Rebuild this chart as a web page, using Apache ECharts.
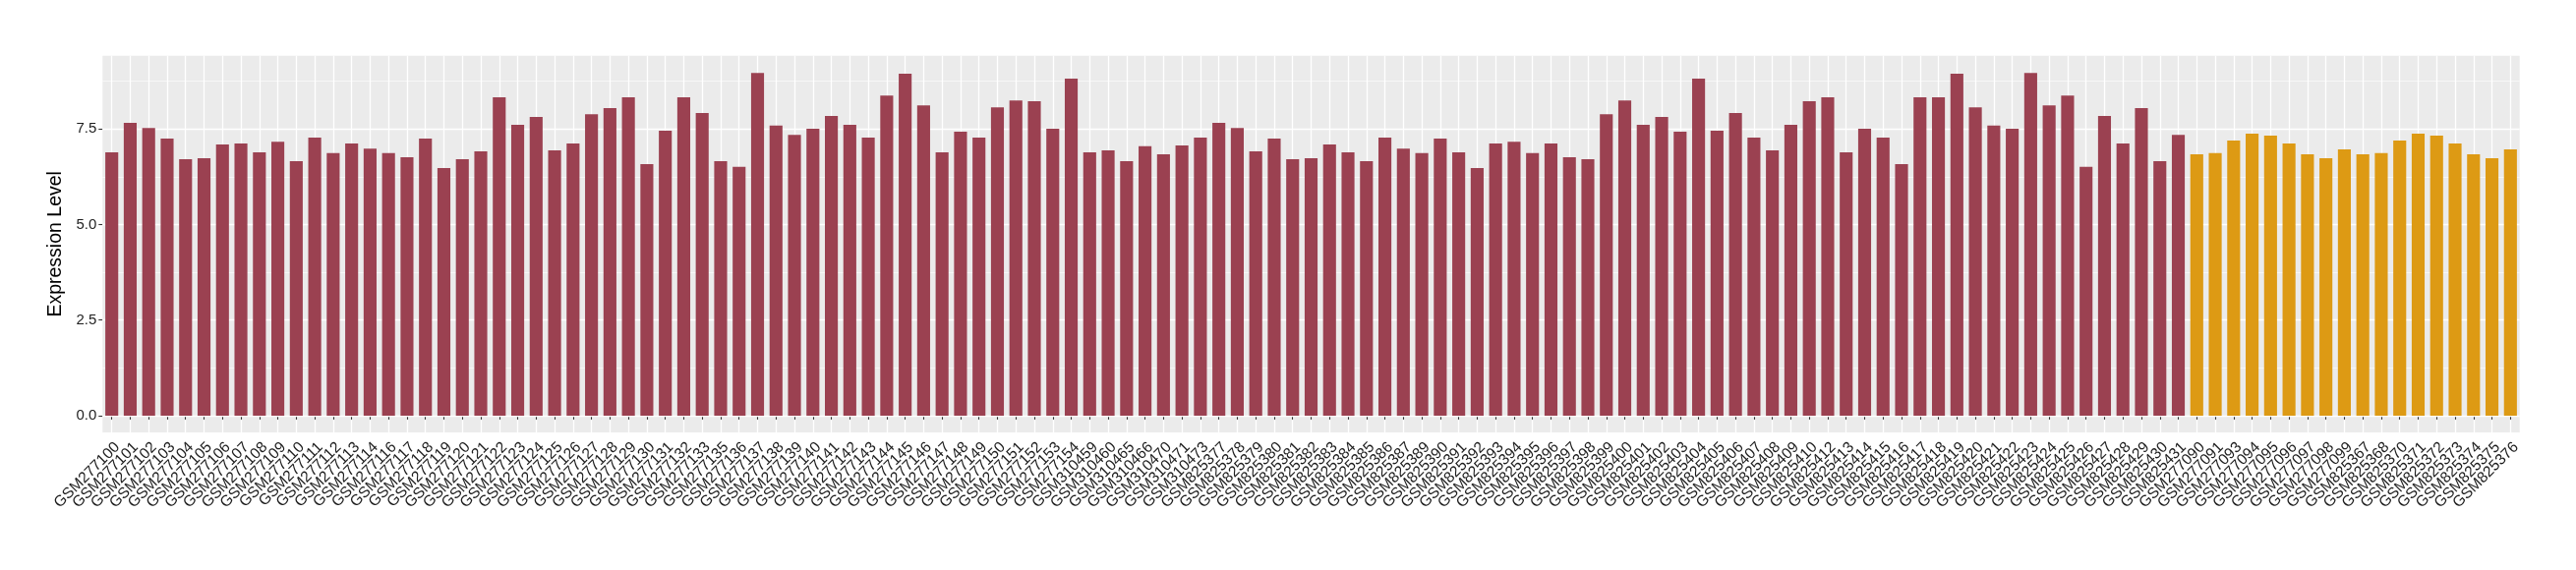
<!DOCTYPE html>
<html>
<head>
<meta charset="utf-8">
<script src="https://cdn.jsdelivr.net/npm/echarts@6/dist/echarts.min.js"></script>
<style>
html,body{margin:0;padding:0;background:#fff;}
#chart{width:2620px;height:580px;}
</style>
</head>
<body>
<div id="chart"></div>
<script>
// ---- data ----
const namesA = [
  'GSM277100','GSM277101','GSM277102','GSM277103','GSM277104','GSM277105','GSM277106','GSM277107','GSM277108','GSM277109',
  'GSM277110','GSM277111','GSM277112','GSM277113','GSM277114','GSM277116','GSM277117','GSM277118','GSM277119','GSM277120',
  'GSM277121','GSM277122','GSM277123','GSM277124','GSM277125','GSM277126','GSM277127','GSM277128','GSM277129','GSM277130',
  'GSM277131','GSM277132','GSM277133','GSM277135','GSM277136','GSM277137','GSM277138','GSM277139','GSM277140','GSM277141',
  'GSM277142','GSM277143','GSM277144','GSM277145','GSM277146','GSM277147','GSM277148','GSM277149','GSM277150','GSM277151',
  'GSM277152','GSM277153','GSM277154','GSM310459','GSM310460','GSM310465','GSM310466','GSM310470','GSM310471','GSM310473',
  'GSM825377','GSM825378','GSM825379','GSM825380','GSM825381','GSM825382','GSM825383','GSM825384','GSM825385','GSM825386',
  'GSM825387','GSM825389','GSM825390','GSM825391','GSM825392','GSM825393','GSM825394','GSM825395','GSM825396','GSM825397',
  'GSM825398','GSM825399','GSM825400','GSM825401','GSM825402','GSM825403','GSM825404','GSM825405','GSM825406','GSM825407',
  'GSM825408','GSM825409','GSM825410','GSM825412','GSM825413','GSM825414','GSM825415','GSM825416','GSM825417','GSM825418',
  'GSM825419','GSM825420','GSM825421','GSM825422','GSM825423','GSM825424','GSM825425','GSM825426','GSM825427','GSM825428',
  'GSM825429','GSM825430','GSM825431'
];
const valuesA = [
  6.89, 7.66, 7.53, 7.25, 6.71, 6.74, 7.10, 7.12, 6.89, 7.17, 6.66, 7.28, 6.87, 7.12, 6.99, 6.87, 6.76,
  7.25, 6.48, 6.71, 6.92, 8.33, 7.61, 7.82, 6.94, 7.12, 7.89, 8.05, 8.33, 6.58, 7.46, 8.33, 7.92,
  6.66, 6.51, 8.97, 7.59, 7.35, 7.51, 7.84, 7.61, 7.28, 8.38, 8.95, 8.12, 6.89, 7.43, 7.28, 8.07, 8.25,
  8.23, 7.51, 8.82, 6.89, 6.94, 6.66, 7.05, 6.84, 7.07, 7.28, 7.66, 7.53, 6.92, 7.25, 6.71, 6.74, 7.10,
  6.89, 6.66, 7.28, 6.99, 6.87, 7.25, 6.89, 6.48, 7.12, 7.17, 6.87, 7.12, 6.76, 6.71, 7.89, 8.25, 7.61,
  7.82, 7.43, 8.82, 7.46, 7.92, 7.28, 6.94, 7.61, 8.23, 8.33, 6.89, 7.51, 7.28, 6.58, 8.33, 8.33, 8.95,
  8.07, 7.59, 7.51, 8.97, 8.12, 8.38, 6.51, 7.84, 7.12, 8.05, 6.66, 7.35
];
const namesB = [
  'GSM277090','GSM277091','GSM277093','GSM277094','GSM277095','GSM277096','GSM277097','GSM277098','GSM277099',
  'GSM825367','GSM825368','GSM825370','GSM825371','GSM825372','GSM825373','GSM825374','GSM825375','GSM825376'
];
const valuesB = [
  6.84, 6.87, 7.20, 7.38, 7.33, 7.12, 6.84, 6.74, 6.97,
  6.84, 6.87, 7.20, 7.38, 7.33, 7.12, 6.84, 6.74, 6.97
];
const yTicks = [0, 2.5, 5, 7.5];
const yMinor = [1.25, 3.75, 6.25, 8.75];

// ---- styles ----
const colorA = '#9B4151';
const colorB = '#DD9A14';
const FONT = 'Liberation Sans';
const TEXT = '#1E1E1E';

const categories = namesA.concat(namesB);
const barData = valuesA.map(v => ({ value: v, itemStyle: { color: colorA } }))
  .concat(valuesB.map(v => ({ value: v, itemStyle: { color: colorB } })));

const gridLines = yTicks.map(v => ({ yAxis: v, lineStyle: { color: '#FFFFFF', width: 1.3, type: 'solid' } }))
  .concat(yMinor.map(v => ({ yAxis: v, lineStyle: { color: '#FFFFFF', width: 0.6, type: 'solid' } })));

const chart = echarts.init(document.getElementById('chart'), null, { renderer: 'canvas' });
chart.setOption({
  animation: false,
  textStyle: { fontFamily: FONT },
  grid: {
    left: 104.3, right: 57.3, top: 56.7, bottom: 140,
    show: true, backgroundColor: '#EBEBEB', borderWidth: 0, containLabel: false
  },
  xAxis: {
    type: 'category',
    data: categories,
    axisLine: { show: false },
    axisTick: { show: true, alignWithLabel: true, interval: 0, length: 4, lineStyle: { color: '#333333', width: 1.1 } },
    axisLabel: {
      interval: 0, rotate: 45, fontSize: 15.5, color: TEXT, fontFamily: FONT,
      margin: 7, verticalAlign: 'top'
    },
    splitLine: { show: true, interval: 0, alignWithLabel: true, lineStyle: { color: '#FFFFFF', width: 1.3 } }
  },
  yAxis: {
    type: 'value',
    min: -0.44, max: 9.42,
    name: 'Expression Level',
    nameLocation: 'middle',
    nameGap: 33,
    nameTextStyle: { fontSize: 19.5, color: '#000000', fontFamily: FONT },
    axisLine: { show: false },
    axisTick: { show: true, customValues: yTicks, length: 4, lineStyle: { color: '#333333', width: 1.1 } },
    axisLabel: {
      customValues: yTicks, fontSize: 15, color: TEXT, fontFamily: FONT, margin: 6,
      formatter: v => Number(v).toFixed(1)
    },
    splitLine: { show: false }
  },
  series: [{
    type: 'bar',
    data: barData,
    barCategoryGap: '30%',
    z: 2,
    markLine: {
      silent: true,
      symbol: ['none', 'none'],
      label: { show: false },
      z: 1,
      animation: false,
      emphasis: { disabled: true },
      data: gridLines
    }
  }]
});
</script>
</body>
</html>
